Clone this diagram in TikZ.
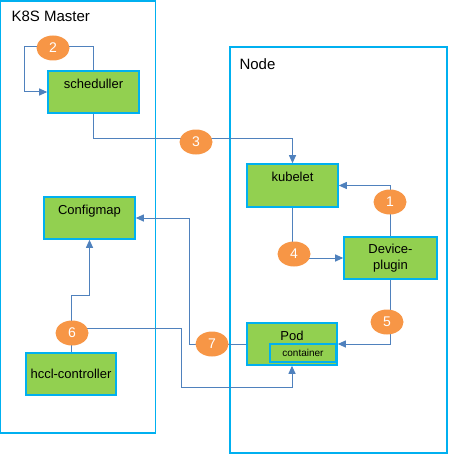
\documentclass[tikz,border=0pt]{standalone}
\usepackage{fontspec}
\setmainfont{Liberation Sans}
\usetikzlibrary{arrows.meta,positioning,shapes.geometric}
\definecolor{bleuLigne}{RGB}{79,129,189}
\definecolor{bleuBord}{RGB}{0,176,240}
\definecolor{vertBoite}{RGB}{146,208,80}
\definecolor{orangeEtiq}{RGB}{247,150,70}
\begin{document}
\begin{tikzpicture}[x=1pt,y=-1pt]
    % Styles (MODIFIABLES)
    \tikzstyle{fleche}=[-{Triangle[length=8pt,width=7pt]},bleuLigne,line width=1pt]
    \tikzstyle{cadre}=[draw=bleuBord,line width=1.4pt]
    \tikzstyle{boite}=[draw=bleuBord,line width=1.6pt,fill=vertBoite,rectangle,inner sep=0pt,font=\fontsize{13}{15.6}\selectfont]
    \tikzstyle{texte}=[font=\fontsize{13}{15.6}\selectfont]
    \tikzstyle{etiquette}=[ellipse,fill=orangeEtiq,text=white,minimum width=33pt,minimum height=25pt,inner sep=0pt,font=\fontsize{14}{16}\selectfont]
    \useasboundingbox (0,0) rectangle (461,468);
    % Cadres
    \draw[cadre] (0.7,1) rectangle (155.5,433);
    \node[anchor=west,font=\fontsize{15}{18}\selectfont] (Master) at (8,16) {K8S Master};
    \draw[cadre] (230,47) rectangle (447,453);
    \node[anchor=west,font=\fontsize{15}{18}\selectfont] (NodeT) at (236,64) {Node};
    % Noeuds (MODIFIABLES)
    \node[boite,minimum width=91pt,minimum height=42pt] (Sched) at (93.5,92) {};
    \node[texte,below=5pt of Sched.north] (SchedT) {scheduller};
    \node[boite,minimum width=91pt,minimum height=42pt] (Config) at (89.5,218) {};
    \node[texte,below=5pt of Config.north] (ConfigT) {Configmap};
    \node[boite,minimum width=90pt,minimum height=42pt] (Hccl) at (71,374) {hccl-controller};
    \node[boite,minimum width=91pt,minimum height=43pt] (Kubelet) at (292.5,185.5) {};
    \node[texte,below=5pt of Kubelet.north] (KubeletT) {kubelet};
    \node[boite,minimum width=93pt,minimum height=42pt,align=center] (Device) at (390.5,258) {Device-\\plugin};
    \node[boite,minimum width=90pt,minimum height=42pt] (Pod) at (292,344) {};
    \node[texte,below=5pt of Pod.north] (PodT) {Pod};
    \node[boite,minimum width=66pt,minimum height=18pt,font=\fontsize{10}{12}\selectfont] (Cont) at (303,353) {container};
    % Arcs
    \coordinate (C2) at (24,47);
    \draw[fleche] (Sched.north) |- (C2) |- (Sched.west);
    \draw[fleche] (Sched.south) -- ++(0,25) -| (Kubelet.north);
    \draw[fleche] (Device.north) |- (Kubelet.east);
    \draw[fleche] (Kubelet.south) |- (Device.west);
    \draw[fleche] (Device.south) |- (Pod.east);
    \draw[fleche] (Pod.west) -- ++(-57,0) |- (Config.east);
    \draw[fleche] (Hccl.north) -- ++(0,-57) -| (Config.south);
    \draw[fleche] (Hccl.north) -- ++(0,-24) -- ++(110,0) -- ++(0,59) -| (Pod.south);
    % Etiquettes
    \node[etiquette] (E1) at (390,202) {1};
    \node[etiquette] (E2) at (53,48) {2};
    \node[etiquette] (E3) at (196,142) {3};
    \node[etiquette] (E4) at (294,254) {4};
    \node[etiquette] (E5) at (387,322) {5};
    \node[etiquette] (E6) at (72,333) {6};
    \node[etiquette] (E7) at (212,344) {7};
\end{tikzpicture}
\end{document}
